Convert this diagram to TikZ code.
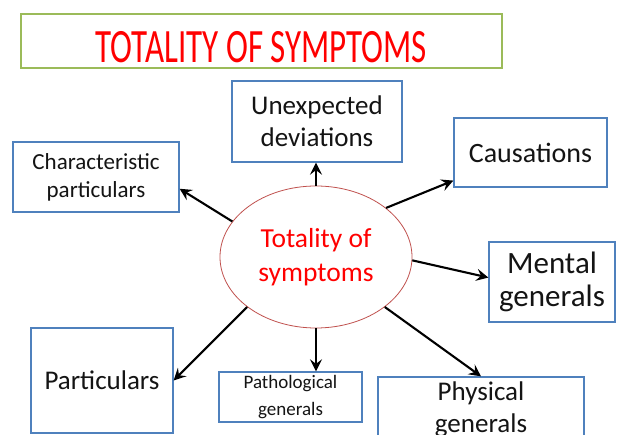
\documentclass[tikz,border=0pt]{standalone}
\usepackage{fontspec}
\setmainfont{Carlito}
\usetikzlibrary{shapes.geometric,arrows.meta}
\definecolor{titlered}{RGB}{255,0,0}
\definecolor{titlegreen}{RGB}{155,187,89}
\definecolor{boxblue}{RGB}{79,129,189}
\definecolor{ellred}{RGB}{192,80,77}
\definecolor{textgray}{RGB}{20,20,20}
\newcommand{\fsz}[2]{\fontsize{#1}{#2}\selectfont}

\begin{document}
\begin{tikzpicture}[x=1pt,y=-1pt,
    box/.style={draw=boxblue, line width=1.3pt, rectangle, inner sep=0pt, align=center, text=textgray},
    link/.style={-{Stealth[length=12pt,width=12pt,inset=4.5pt]}, line width=2.1pt, black}]
            \clip (0,0) rectangle (621,435);
            \fill[white] (0,0) rectangle (621,435);

            % Title
            \node[draw=titlegreen, line width=1.8pt, minimum width=481pt, minimum height=54pt, inner sep=0pt,
                  text height=44pt, text depth=0pt, text=titlered, font={\fsz{33}{40}}] (title) at (261.5,41)
                  {\scalebox{1}[1.45]{TOTALITY OF SYMPTOMS}};

            % Centre
            \node[ellipse, draw=ellred, line width=0.8pt, minimum width=192pt, minimum height=142pt, inner sep=0pt,
                  align=center, text=titlered, font={\fsz{27.5}{34}}] (centre) at (316,257) {Totality of\\symptoms};

            % Boxes
            \node[box, minimum width=170pt, minimum height=81pt, font={\fsz{27}{32}}] (deviations) at (317,121.5) {Unexpected\\deviations};
            \node[box, minimum width=166pt, minimum height=70pt, font={\fsz{23}{28}}] (charpart) at (96,177) {Characteristic\\particulars};
            \node[box, minimum width=153pt, minimum height=69pt, font={\fsz{28}{32}}] (causes) at (530.5,152.5) {Causations};
            \node[box, minimum width=126pt, minimum height=80pt, font={\fsz{31}{33}}] (mental) at (552,282) {Mental\\generals};
            \node[box, minimum width=142pt, minimum height=105pt, font={\fsz{27}{32}}] (particulars) at (102,380.5) {Particulars};
            \node[box, minimum width=143pt, minimum height=50pt, font={\fsz{19}{27}}] (patho) at (290.5,397) {Pathological\\generals};
            \node[box, minimum width=206pt, minimum height=64pt, font={\fsz{27}{32}}] (physical) at (481,409) {Physical\\generals};

            % Arrows
            \draw[link] (centre.157) -- (charpart.-8);
            \draw[link] (centre.north) -- (centre.north |- deviations.south);
            \draw[link] (centre.35) -- (causes.200);
            \draw[link] (centre.-2) -- (mental.176);
            \draw[link] (centre.-36) -- (physical.north);
            \draw[link] (centre.south) -- (centre.south |- patho.north);
            \draw[link] (centre.216) -- (particulars.east);
        \end{tikzpicture}
\end{document}
